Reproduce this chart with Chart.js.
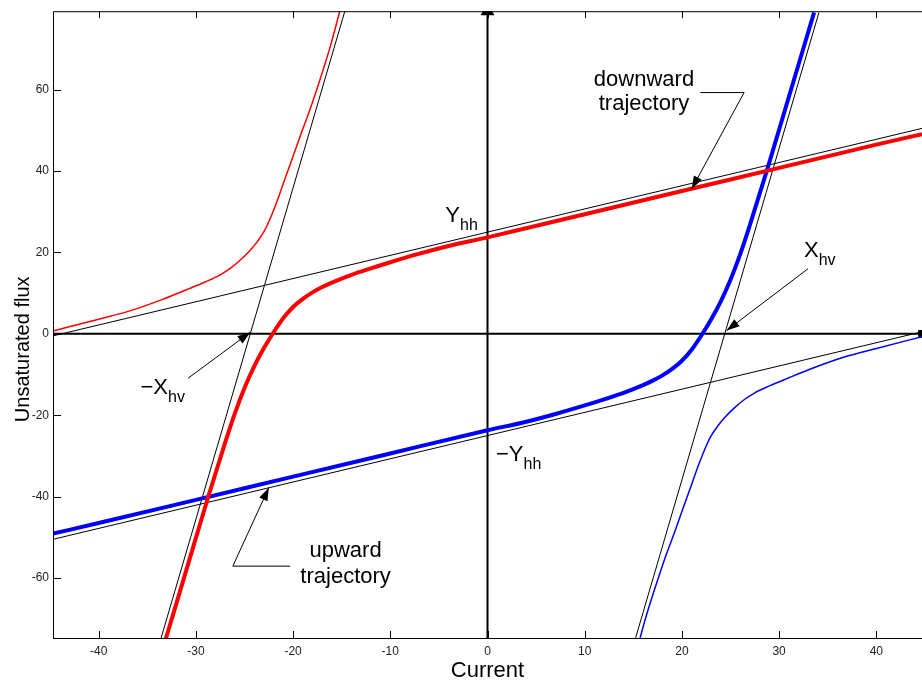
<!DOCTYPE html>
<html>
<head>
<meta charset="utf-8">
<script src="https://cdn.jsdelivr.net/npm/chart.js@4.4.0/dist/chart.umd.min.js"></script>
<style>
html, body { margin: 0; padding: 0; background: #fff; }
#chart-flux { display: block; }
</style>
</head>
<body>
<canvas id="chart-flux" width="922" height="684"></canvas>
<script>
font_family = "'Liberation Sans', Arial, Helvetica, sans-serif"

x_min = -44.7
x_max = 44.7
y_min = -75
y_max = 79.3

x_ticks = [-40, -30, -20, -10, 0, 10, 20, 30, 40]
y_ticks = [-60, -40, -20, 0, 20, 40, 60]

// downward trajectory (thick red) and its upper branch (thin red)
down_main_x = [-33.6, -31, -28.8, -27, -26, -25, -24, -23, -22, -21, -20, -19, -18, -17, -16, -14, -12, -10, -7, -4, 0, 10, 20, 30, 40, 44.7]
down_main_y = [-79, -58.2, -40.6, -26.8, -19.6, -13.3, -8.0, -3.5, 0.4, 3.9, 6.6, 8.6, 10.2, 11.5, 12.6, 14.5, 16.1, 17.6, 19.7, 21.6, 23.7, 29.4, 35.1, 40.8, 46.5, 49.1]
down_branch_x = [-44.7, -40, -36.7, -33.5, -30.9, -29, -27.5, -26.4, -25.4, -24.5, -23.7, -23, -22.4, -21.7, -21, -20.1, -19.3, -18.4, -17.6, -16.2, -15.2]
down_branch_y = [0.7, 3.6, 5.7, 8.4, 10.9, 12.8, 14.5, 16.2, 18.2, 20.3, 22.6, 25.1, 28.1, 32.3, 37, 43, 48.4, 54.2, 59.8, 70.4, 79.3]

// upward trajectory (thick blue) and its lower branch (thin blue)
up_main_x = [-44.7, -40, -30, -20, -10, 0, 4, 7, 10, 12, 14, 16, 17, 18, 19, 20, 21, 22, 23, 24, 25, 26, 27, 28.8, 31, 33.6]
up_main_y = [-49.1, -46.5, -40.8, -35.1, -29.4, -23.7, -21.6, -19.7, -17.6, -16.1, -14.5, -12.6, -11.5, -10.2, -8.6, -6.6, -3.9, -0.4, 3.5, 8.0, 13.3, 19.6, 26.8, 40.6, 58.2, 79]
up_branch_x = [15.2, 16.2, 17.6, 18.4, 19.3, 20.1, 21, 21.7, 22.4, 23, 23.7, 24.5, 25.4, 26.4, 27.5, 29, 30.9, 33.5, 36.7, 40, 44.7]
up_branch_y = [-79.3, -70.4, -59.8, -54.2, -48.4, -43, -37, -32.3, -28.1, -25.1, -22.6, -20.3, -18.2, -16.2, -14.5, -12.8, -10.9, -8.4, -5.7, -3.6, -0.7]

// asymptotes (thin black)
upper_asym_x = [-44.7, 44.7]
upper_asym_y = [-0.5, 50.5]
lower_asym_x = [-44.7, 44.7]
lower_asym_y = [-50.5, 0.5]
left_steep_x = [-34.1, -14.1]
left_steep_y = [-79, 84]
right_steep_x = [14.1, 34.1]
right_steep_y = [-84, 79]

function points(xs, ys) {
    return xs.map((x, i) => ({x: x, y: ys[i]}))
}

function curve(label, xs, ys, color, width) {
    return {
        label: label,
        data: points(xs, ys),
        borderColor: color,
        backgroundColor: color,
        borderWidth: width,
        showLine: true,
        pointRadius: 0,
        fill: false,
        cubicInterpolationMode: 'monotone'
    }
}

function arrow(ctx, pts) {
    ctx.beginPath()
    ctx.moveTo(pts[0][0], pts[0][1])
    for (let i = 1; i < pts.length; i++) ctx.lineTo(pts[i][0], pts[i][1])
    ctx.stroke()
    const a = pts[pts.length - 2], b = pts[pts.length - 1]
    const ang = Math.atan2(b[1] - a[1], b[0] - a[0])
    const len = 13, half = 4.5
    ctx.beginPath()
    ctx.moveTo(b[0], b[1])
    ctx.lineTo(b[0] - len * Math.cos(ang) + half * Math.sin(ang), b[1] - len * Math.sin(ang) - half * Math.cos(ang))
    ctx.lineTo(b[0] - len * Math.cos(ang) - half * Math.sin(ang), b[1] - len * Math.sin(ang) + half * Math.cos(ang))
    ctx.closePath()
    ctx.fill()
}

function sub_text(ctx, main, sub, x, y) {
    ctx.font = '22px ' + font_family
    ctx.textAlign = 'left'
    ctx.textBaseline = 'alphabetic'
    ctx.fillText(main, x, y)
    const w = ctx.measureText(main).width
    ctx.font = '16px ' + font_family
    ctx.fillText(sub, x + w, y + 8)
}

notes_plugin = {
    id: 'notes',
    afterDatasetsDraw(chart) {
        const ctx = chart.ctx, area = chart.chartArea
        const sx = chart.scales.x, sy = chart.scales.y
        const px = v => sx.getPixelForValue(v), py = v => sy.getPixelForValue(v)
        ctx.save()

        // axes box with inward ticks (right side is cut off in the original)
        ctx.strokeStyle = '#000'
        ctx.lineWidth = 1
        ctx.beginPath()
        ctx.moveTo(area.left + 0.5, area.bottom)
        ctx.lineTo(area.left + 0.5, area.top + 0.5)
        ctx.lineTo(area.right, area.top + 0.5)
        ctx.moveTo(area.left, area.bottom - 0.5)
        ctx.lineTo(area.right, area.bottom - 0.5)
        x_ticks.forEach(v => {
            const x = Math.round(px(v)) + 0.5
            ctx.moveTo(x, area.bottom); ctx.lineTo(x, area.bottom - 8)
            ctx.moveTo(x, area.top); ctx.lineTo(x, area.top + 7)
        })
        y_ticks.forEach(v => {
            const y = Math.round(py(v)) + 0.5
            ctx.moveTo(area.left, y); ctx.lineTo(area.left + 8, y)
        })
        ctx.stroke()

        // y axis title
        ctx.fillStyle = '#000'
        ctx.save()
        ctx.translate(23, py(-3.8))
        ctx.rotate(-Math.PI / 2)
        ctx.font = '20px ' + font_family
        ctx.textAlign = 'center'
        ctx.textBaseline = 'middle'
        ctx.fillText('Unsaturated flux', 0, 0)
        ctx.restore()

        // callout arrows
        ctx.lineWidth = 1
        ctx.strokeStyle = '#000'
        arrow(ctx, [[px(21.9), py(59.3)], [px(26.4), py(59.3)], [px(21.0), py(35.6)]])
        arrow(ctx, [[px(-20.3), py(-57.1)], [px(-26.2), py(-57.1)], [px(-22.5), py(-37.8)]])
        arrow(ctx, [[px(-30.8), py(-10.9)], [px(-24.4), py(0.4)]])
        arrow(ctx, [[px(32.97), py(16.0)], [px(24.6), py(0.8)]])

        // labels
        ctx.font = '22px ' + font_family
        ctx.textAlign = 'center'
        ctx.textBaseline = 'alphabetic'
        ctx.fillText('downward', px(16.1), py(61.0))
        ctx.fillText('trajectory', px(16.1), py(54.9))
        ctx.fillText('upward', px(-14.6), py(-54.9))
        ctx.fillText('trajectory', px(-14.6), py(-61.2))

        sub_text(ctx, 'Y', 'hh', px(-4.34), py(27.5))
        sub_text(ctx, '\u2212Y', 'hh', px(0.87), py(-31.2))
        sub_text(ctx, '\u2212X', 'hv', px(-35.7), py(-14.8))
        sub_text(ctx, 'X', 'hv', px(32.56), py(18.9))

        ctx.restore()
    }
}

flux_chart = new Chart(
    document.getElementById('chart-flux').getContext('2d'), {
        type: 'scatter',
        data: {
            datasets: [
                curve('downward trajectory', down_main_x, down_main_y, '#ff0000', 4),
                curve('upward trajectory', up_main_x, up_main_y, '#0000ff', 4),
                curve('downward branch', down_branch_x, down_branch_y, '#ff0000', 1.5),
                curve('upward branch', up_branch_x, up_branch_y, '#0000ff', 1.5),
                curve('upper asymptote', upper_asym_x, upper_asym_y, '#000000', 1),
                curve('lower asymptote', lower_asym_x, lower_asym_y, '#000000', 1),
                curve('left steep', left_steep_x, left_steep_y, '#000000', 1),
                curve('right steep', right_steep_x, right_steep_y, '#000000', 1),
                {
                    label: 'zero flux',
                    data: points([x_min, x_max], [0, 0]),
                    borderColor: '#000',
                    backgroundColor: '#000',
                    borderWidth: 2,
                    showLine: true,
                    pointStyle: 'rect',
                    pointRadius: [0, 4]
                },
                {
                    label: 'zero current',
                    data: points([0, 0], [y_min, y_max]),
                    borderColor: '#000',
                    backgroundColor: '#000',
                    borderWidth: 2,
                    showLine: true,
                    pointStyle: 'triangle',
                    pointRadius: [0, 6]
                }
            ]
        },
        options: {
            responsive: false,
            animation: false,
            devicePixelRatio: 1,
            layout: {
                autoPadding: false,
                padding: {top: 8, left: 0, right: 0, bottom: 0}
            },
            plugins: {
                legend: {display: false},
                tooltip: {enabled: false},
                title: {display: false}
            },
            scales: {
                x: {
                    type: 'linear',
                    min: x_min,
                    max: x_max,
                    afterBuildTicks: axis => { axis.ticks = x_ticks.map(v => ({value: v})) },
                    afterFit: axis => { axis.height = 45 },
                    grid: {display: false, drawTicks: false},
                    border: {display: false},
                    ticks: {
                        color: '#222',
                        font: {family: font_family, size: 12},
                        padding: 5,
                        maxRotation: 0,
                        autoSkip: false
                    },
                    title: {
                        display: true,
                        text: 'Current',
                        color: '#000',
                        font: {family: font_family, size: 22},
                        padding: {top: 0, bottom: 0}
                    }
                },
                y: {
                    type: 'linear',
                    min: y_min,
                    max: y_max,
                    afterBuildTicks: axis => { axis.ticks = y_ticks.map(v => ({value: v})) },
                    afterFit: axis => { axis.width = 53 },
                    grid: {display: false, drawTicks: false},
                    border: {display: false},
                    ticks: {
                        color: '#222',
                        font: {family: font_family, size: 12},
                        padding: 4,
                        autoSkip: false
                    }
                }
            }
        },
        plugins: [notes_plugin]
    });
</script>
</body>
</html>
